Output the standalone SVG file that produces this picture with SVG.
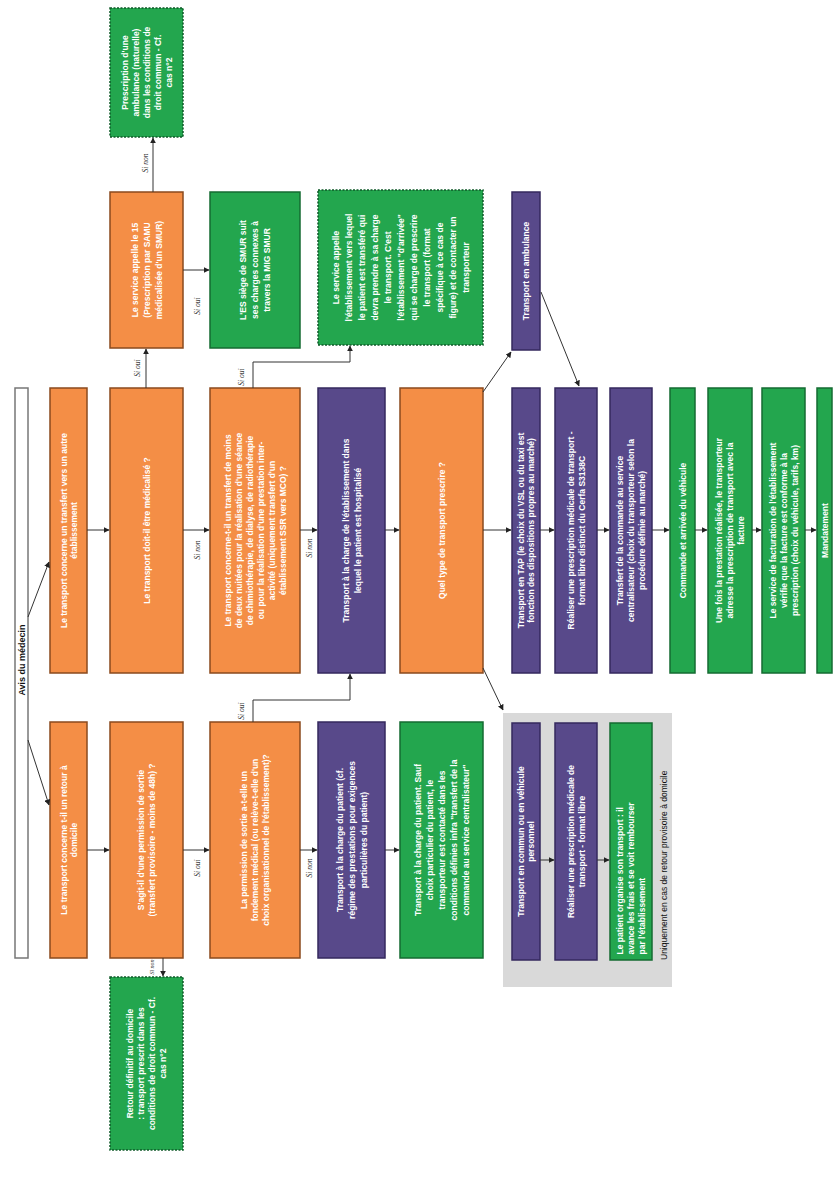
<svg xmlns="http://www.w3.org/2000/svg" width="835" height="1191" viewBox="0 0 835 1191">
<style>
.or{fill:#F48E46;stroke:#8A4A1E;stroke-width:1.5}
.pu{fill:#58498A;stroke:#35295E;stroke-width:1.5}
.gr{fill:#23A64E;stroke:#156B32;stroke-width:1.5}
.gd{fill:#23A64E;stroke:#0F5A28;stroke-width:1.5;stroke-dasharray:2 1.5}
.t{font-family:"Liberation Sans",Arial,sans-serif;font-weight:bold;font-size:8.5px;fill:#fff;text-anchor:middle}
.tl{text-anchor:start}
.lb{font-family:"Liberation Serif","Times New Roman",serif;font-style:italic;font-size:7.5px;fill:#222;text-anchor:middle}
.cn{fill:none;stroke:#333;stroke-width:1}
</style>
<defs>
<marker id="ah" viewBox="0 0 10 10" refX="9" refY="5" markerWidth="6" markerHeight="6" markerUnits="userSpaceOnUse" orient="auto"><path d="M0,0 L10,5 L0,10 z" fill="#222"/></marker>
</defs>
<rect width="835" height="1191" fill="#fff"/>

<g id="avis">
<rect x="15" y="388" width="13" height="570" fill="#fff" stroke="#777" stroke-width="1.5"/>
<g transform="translate(21.5,660) rotate(-90)"><text class="t" style="fill:#111;font-size:9px" x="0" y="3">Avis du médecin</text></g>
</g>

<g id="grey-zone">
<rect x="503" y="713" width="169" height="274" fill="#D9D9D9"/>
<g transform="translate(664,960) rotate(-90)"><text style="font-family:'Liberation Sans',Arial,sans-serif;font-size:8.5px;fill:#111" x="0" y="3">Uniquement en cas de retour provisoire à domicile</text></g>
</g>

<g id="n-transfert">
<rect class="or" x="50" y="388" width="37" height="285"/>
<g transform="translate(68.5,530.5) rotate(-90)"><text class="t"><tspan x="0" y="-2">Le transport concerne un transfert vers un autre</tspan><tspan x="0" y="8">établissement</tspan></text></g>
</g>
<g id="n-domicile">
<rect class="or" x="50" y="722" width="37" height="236"/>
<g transform="translate(68.5,840) rotate(-90)"><text class="t"><tspan x="0" y="-2">Le transport concerne t-il un retour à</tspan><tspan x="0" y="8">domicile</tspan></text></g>
</g>

<g id="n-medicalise">
<rect class="or" x="110" y="388" width="73" height="285"/>
<g transform="translate(146.5,530.5) rotate(-90)"><text class="t" x="0" y="3">Le transport doit-il être médicalisé ?</text></g>
</g>
<g id="n-permission">
<rect class="or" x="110" y="722" width="73" height="236"/>
<g transform="translate(146.5,840) rotate(-90)"><text class="t"><tspan x="0" y="-2.5">S'agit-il d'une permission de sortie</tspan><tspan x="0" y="8.5">(transfert provisoire - moins de 48h) ?</tspan></text></g>
</g>
<g id="n-retour-definitif">
<rect class="gd" x="110" y="977" width="73" height="173"/>
<g transform="translate(146.5,1063.5) rotate(-90)"><text class="t"><tspan x="0" y="-13.5">Retour définitif au domicile</tspan><tspan x="0" y="-2.5">: transport prescrit dans les</tspan><tspan x="0" y="8.5">conditions de droit commun - Cf.</tspan><tspan x="0" y="19.5">cas n°2</tspan></text></g>
</g>
<g id="n-prescription-ambulance">
<rect class="gd" x="110" y="8" width="73" height="129"/>
<g transform="translate(146.5,72.5) rotate(-90)"><text class="t"><tspan x="0" y="-19">Prescription d'une</tspan><tspan x="0" y="-8">ambulance (naturelle)</tspan><tspan x="0" y="3">dans les conditions de</tspan><tspan x="0" y="14">droit commun - Cf.</tspan><tspan x="0" y="25">cas n°2</tspan></text></g>
</g>
<g id="n-samu">
<rect class="or" x="110" y="192" width="73" height="156"/>
<g transform="translate(146.5,270) rotate(-90)"><text class="t"><tspan x="0" y="-9">Le service appelle le 15</tspan><tspan x="0" y="3">(Prescription par SAMU</tspan><tspan x="0" y="15">médicalisée d'un SMUR)</tspan></text></g>
</g>
<g id="n-smur">
<rect class="gr" x="210" y="192" width="90" height="156"/>
<g transform="translate(255,270) rotate(-90)"><text class="t"><tspan x="0" y="-9">L'ES siège de SMUR suit</tspan><tspan x="0" y="3">ses charges connexes à</tspan><tspan x="0" y="15">travers la MIG SMUR</tspan></text></g>
</g>
<g id="n-seance">
<rect class="or" x="210" y="388" width="90" height="285"/>
<g transform="translate(255,530.5) rotate(-90)"><text class="t"><tspan x="0" y="-24.5">Le transport concerne-t-il un transfert de moins</tspan><tspan x="0" y="-13.5">de deux nuitées pour la réalisation d'une séance</tspan><tspan x="0" y="-2.5">de chimiothérapie, de dialyse, de radiothérapie</tspan><tspan x="0" y="8.5">ou pour la réalisation d'une prestation inter-</tspan><tspan x="0" y="19.5">activité (uniquement transfert d'un</tspan><tspan x="0" y="30.5">établissement SSR vers MCO) ?</tspan></text></g>
</g>
<g id="n-fondement">
<rect class="or" x="210" y="722" width="90" height="236"/>
<g transform="translate(255,840) rotate(-90)"><text class="t"><tspan x="0" y="-8">La permission de sortie a-t-elle un</tspan><tspan x="0" y="3">fondement médical (ou relève-t-elle d'un</tspan><tspan x="0" y="14">choix organisationnel de l'établissement)?</tspan></text></g>
</g>
<g id="n-etab-arrivee">
<rect class="gd" x="318" y="190" width="165" height="155"/>
<g transform="translate(400.5,267.5) rotate(-90)"><text class="t"><tspan x="0" y="-62">Le service appelle</tspan><tspan x="0" y="-49">l'établissement vers lequel</tspan><tspan x="0" y="-36">le patient est transféré qui</tspan><tspan x="0" y="-23">devra prendre à sa charge</tspan><tspan x="0" y="-10">le transport. C'est</tspan><tspan x="0" y="3">l'établissement "d'arrivée"</tspan><tspan x="0" y="16">qui se charge de prescrire</tspan><tspan x="0" y="29">le transport (format</tspan><tspan x="0" y="42">spécifique à ce cas de</tspan><tspan x="0" y="55">figure) et de contacter un</tspan><tspan x="0" y="68">transporteur</tspan></text></g>
</g>
<g id="n-charge-etab">
<rect class="pu" x="318" y="388" width="67" height="285"/>
<g transform="translate(351.5,530.5) rotate(-90)"><text class="t"><tspan x="0" y="-3">Transport à la charge de l'établissement dans</tspan><tspan x="0" y="9">lequel le patient est hospitalisé</tspan></text></g>
</g>
<g id="n-charge-patient">
<rect class="pu" x="318" y="722" width="67" height="236"/>
<g transform="translate(351.5,840) rotate(-90)"><text class="t"><tspan x="0" y="-9">Transport à la charge du patient (cf.</tspan><tspan x="0" y="3">régime des prestations pour exigences</tspan><tspan x="0" y="15">particulières du patient)</tspan></text></g>
</g>
<g id="n-type">
<rect class="or" x="400" y="388" width="83" height="285"/>
<g transform="translate(441.5,530.5) rotate(-90)"><text class="t" x="0" y="3">Quel type de transport prescrire ?</text></g>
</g>
<g id="n-patient-contact">
<rect class="gr" x="400" y="722" width="83" height="236"/>
<g transform="translate(441.5,840) rotate(-90)"><text class="t"><tspan x="0" y="-21">Transport à la charge du patient. Sauf</tspan><tspan x="0" y="-9">choix particulier du patient, le</tspan><tspan x="0" y="3">transporteur est contacté dans les</tspan><tspan x="0" y="15">conditions définies infra "transfert de la</tspan><tspan x="0" y="27">commande au service centralisateur"</tspan></text></g>
</g>
<g id="n-ambulance">
<rect class="pu" x="512" y="192" width="28" height="158"/>
<g transform="translate(526,271) rotate(-90)"><text class="t" x="0" y="3">Transport en ambulance</text></g>
</g>
<g id="n-tap">
<rect class="pu" x="512" y="388" width="28" height="285"/>
<g transform="translate(526,530.5) rotate(-90)"><text class="t"><tspan x="0" y="-2">Transport en TAP (le choix du VSL ou du taxi est</tspan><tspan x="0" y="8">fonction des dispositions propres au marché)</tspan></text></g>
</g>
<g id="n-prescription-tap">
<rect class="pu" x="555" y="388" width="42" height="285"/>
<g transform="translate(576,530.5) rotate(-90)"><text class="t"><tspan x="0" y="-2.5">Réaliser une prescription médicale de transport -</tspan><tspan x="0" y="8.5">format libre distinct du Cerfa S3138C</tspan></text></g>
</g>
<g id="n-commande-centrale">
<rect class="pu" x="610" y="388" width="42" height="285"/>
<g transform="translate(631,530.5) rotate(-90)"><text class="t"><tspan x="0" y="-8">Transfert de la commande au service</tspan><tspan x="0" y="3">centralisateur (choix du transporteur selon la</tspan><tspan x="0" y="14">procédure définie au marché)</tspan></text></g>
</g>
<g id="n-arrivee">
<rect class="gr" x="670" y="388" width="25" height="285"/>
<g transform="translate(682.5,530.5) rotate(-90)"><text class="t" x="0" y="3">Commande et arrivée du véhicule</text></g>
</g>
<g id="n-facture">
<rect class="gr" x="708" y="388" width="44" height="285"/>
<g transform="translate(730,530.5) rotate(-90)"><text class="t"><tspan x="0" y="-8">Une fois la prestation réalisée, le transporteur</tspan><tspan x="0" y="3">adresse la prescription de transport avec la</tspan><tspan x="0" y="14">facture</tspan></text></g>
</g>
<g id="n-verification">
<rect class="gr" x="762" y="388" width="43" height="285"/>
<g transform="translate(783.5,530.5) rotate(-90)"><text class="t"><tspan x="0" y="-8">Le service de facturation de l'établissement</tspan><tspan x="0" y="3">vérifie que la facture est conforme à la</tspan><tspan x="0" y="14">prescription (choix du véhicule, tarifs, km)</tspan></text></g>
</g>
<g id="n-mandatement">
<rect class="gr" x="817" y="388" width="15" height="285"/>
<g transform="translate(824.5,530.5) rotate(-90)"><text class="t" x="0" y="3">Mandatement</text></g>
</g>
<g id="n-commun">
<rect class="pu" x="512" y="723" width="28" height="237"/>
<g transform="translate(526,841.5) rotate(-90)"><text class="t"><tspan x="0" y="-2">Transport en commun ou en véhicule</tspan><tspan x="0" y="8">personnel</tspan></text></g>
</g>
<g id="n-prescription-libre">
<rect class="pu" x="555" y="723" width="42" height="237"/>
<g transform="translate(576,841.5) rotate(-90)"><text class="t"><tspan x="0" y="-2.5">Réaliser une prescription médicale de</tspan><tspan x="0" y="8.5">transport - format libre</tspan></text></g>
</g>
<g id="n-rembourse">
<rect class="gr" x="610" y="723" width="42" height="237"/>
<g transform="translate(631,841.5) rotate(-90)"><text class="t tl"><tspan x="-113" y="-8">Le patient organise son transport : il</tspan><tspan x="-113" y="3">avance les frais et se voit rembourser</tspan><tspan x="-113" y="14">par l'établissement</tspan></text></g>
</g>

<g id="connectors">
<path class="cn" marker-end="url(#ah)" d="M28,617 L49,562"/>
<path class="cn" marker-end="url(#ah)" d="M28,740 L49,805"/>
<path class="cn" marker-end="url(#ah)" d="M87,530 H109"/>
<path class="cn" marker-end="url(#ah)" d="M87,850 H109"/>
<path class="cn" marker-end="url(#ah)" d="M146,388 V349"/>
<path class="cn" marker-end="url(#ah)" d="M153,192 V138"/>
<path class="cn" marker-end="url(#ah)" d="M183,270 H209"/>
<path class="cn" marker-end="url(#ah)" d="M183,530 H209"/>
<path class="cn" marker-end="url(#ah)" d="M183,850 H209"/>
<path class="cn" marker-end="url(#ah)" d="M163,958 V976"/>
<path class="cn" marker-end="url(#ah)" d="M253,388 V362 H350 V346"/>
<path class="cn" marker-end="url(#ah)" d="M253,722 V700 H350 V674"/>
<path class="cn" marker-end="url(#ah)" d="M300,530 H317"/>
<path class="cn" marker-end="url(#ah)" d="M300,850 H317"/>
<path class="cn" marker-end="url(#ah)" d="M385,530 H399"/>
<path class="cn" marker-end="url(#ah)" d="M385,850 H399"/>
<path class="cn" marker-end="url(#ah)" d="M483,392 L511,352"/>
<path class="cn" marker-end="url(#ah)" d="M483,530 H511"/>
<path class="cn" marker-end="url(#ah)" d="M483,668 L503,710"/>
<path class="cn" marker-end="url(#ah)" d="M541,292 L579,386"/>
<path class="cn" marker-end="url(#ah)" d="M540,530 H554"/>
<path class="cn" marker-end="url(#ah)" d="M597,530 H609"/>
<path class="cn" marker-end="url(#ah)" d="M652,530 H669"/>
<path class="cn" marker-end="url(#ah)" d="M695,530 H707"/>
<path class="cn" marker-end="url(#ah)" d="M752,530 H761"/>
<path class="cn" marker-end="url(#ah)" d="M805,530 H816"/>
<path class="cn" marker-end="url(#ah)" d="M540,860 H554"/>
<path class="cn" marker-end="url(#ah)" d="M597,860 H609"/>
<g transform="translate(137,368) rotate(-90)"><text class="lb" x="0" y="3">Si oui</text></g>
<g transform="translate(145,163) rotate(-90)"><text class="lb" x="0" y="3">Si non</text></g>
<g transform="translate(197,306) rotate(-90)"><text class="lb" x="0" y="3">Si oui</text></g>
<g transform="translate(197,550) rotate(-90)"><text class="lb" x="0" y="3">Si non</text></g>
<g transform="translate(197,868) rotate(-90)"><text class="lb" x="0" y="3">Si oui</text></g>
<g transform="translate(152,967) rotate(-90)"><text class="lb" style="font-size:6px" x="0" y="2">Si non</text></g>
<g transform="translate(241,377) rotate(-90)"><text class="lb" x="0" y="3">Si oui</text></g>
<g transform="translate(241,711) rotate(-90)"><text class="lb" x="0" y="3">Si oui</text></g>
<g transform="translate(309,548) rotate(-90)"><text class="lb" x="0" y="3">Si non</text></g>
<g transform="translate(309,868) rotate(-90)"><text class="lb" x="0" y="3">Si non</text></g>
</g>
</svg>
